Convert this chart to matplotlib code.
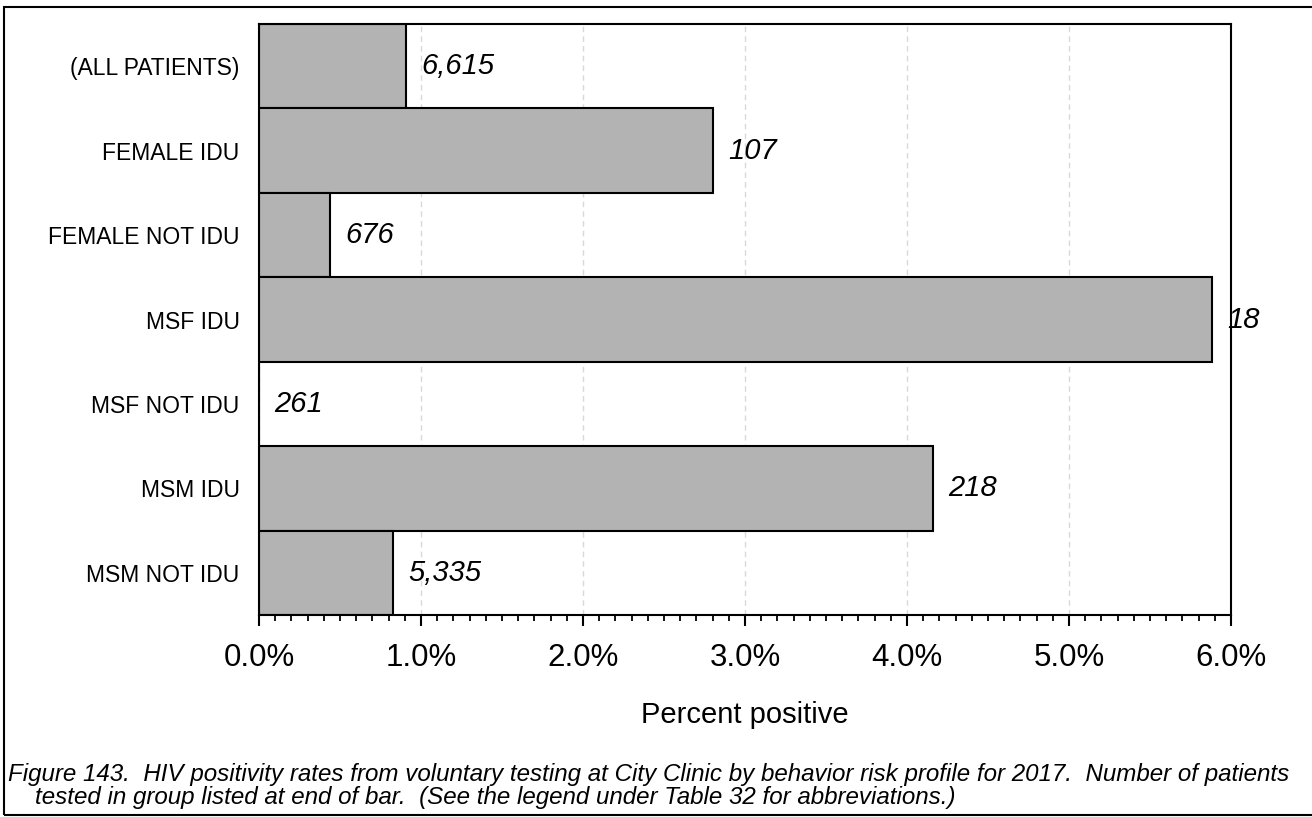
import matplotlib
matplotlib.use("Agg")
import matplotlib.pyplot as plt
from matplotlib.patches import Rectangle
from matplotlib.ticker import MultipleLocator, FuncFormatter

groups = ["(ALL PATIENTS)", "FEMALE IDU", "FEMALE NOT IDU", "MSF IDU",
          "MSF NOT IDU", "MSM IDU", "MSM NOT IDU"]
pct_positive = [0.91, 2.80, 0.44, 5.88, 0.0, 4.16, 0.83]
n_tested = ["6,615", "107", "676", "18", "261", "218", "5,335"]

caption = ("Figure 143.  HIV positivity rates from voluntary testing at City Clinic by behavior risk profile for 2017.  Number of patients\n"
           "    tested in group listed at end of bar.  (See the legend under Table 32 for abbreviations.)")

plt.rcParams['font.family'] = ['Liberation Sans', 'DejaVu Sans']

fig = plt.figure(figsize=(13.12, 8.17), dpi=100)
ax = fig.add_axes([259/1312, 1 - 615/817, (1231-259)/1312, (615-24)/817])

ypos = range(len(groups))
ax.barh(ypos, pct_positive, height=1.0, color="#b3b3b3", edgecolor="black",
        linewidth=1.5, zorder=2)
for y, v, n in zip(ypos, pct_positive, n_tested):
    ax.annotate(n, (v, y), xytext=(11, 0), textcoords="offset points",
                ha="left", va="center", fontsize=21, style="italic", zorder=3)

ax.set_ylim(len(groups) - 0.5, -0.5)
ax.set_xlim(0, 6)
ax.set_yticks(list(ypos))
ax.set_yticklabels(groups, fontsize=16.5)
ax.tick_params(axis="y", length=0, pad=14)

ax.xaxis.set_major_locator(MultipleLocator(1))
ax.xaxis.set_minor_locator(MultipleLocator(0.1))
ax.xaxis.set_major_formatter(FuncFormatter(lambda x, p: f"{x:.1f}%"))
ax.tick_params(axis="x", which="major", direction="out", length=8, width=1.5,
               labelsize=22.5, pad=12)
ax.tick_params(axis="x", which="minor", direction="out", length=4, width=1.3)
ax.grid(axis="x", which="major", linestyle=(0, (4, 3)), color="#d9d9d9",
        linewidth=1, zorder=0)
ax.set_axisbelow(True)
for s in ax.spines.values():
    s.set_linewidth(1.5)

ax.set_xlabel("Percent positive", fontsize=21, labelpad=20)

fig.text(8/1312, 1 - 763/817, caption, fontsize=17.4, style="italic",
         va="top", ha="left", linespacing=1.0)

fig.patches.append(Rectangle((4/1312, 2/817), 1.2, 1 - 9/817,
                             transform=fig.transFigure, fill=False,
                             edgecolor="black", linewidth=1.5))

fig.savefig("out.png", dpi=100)
